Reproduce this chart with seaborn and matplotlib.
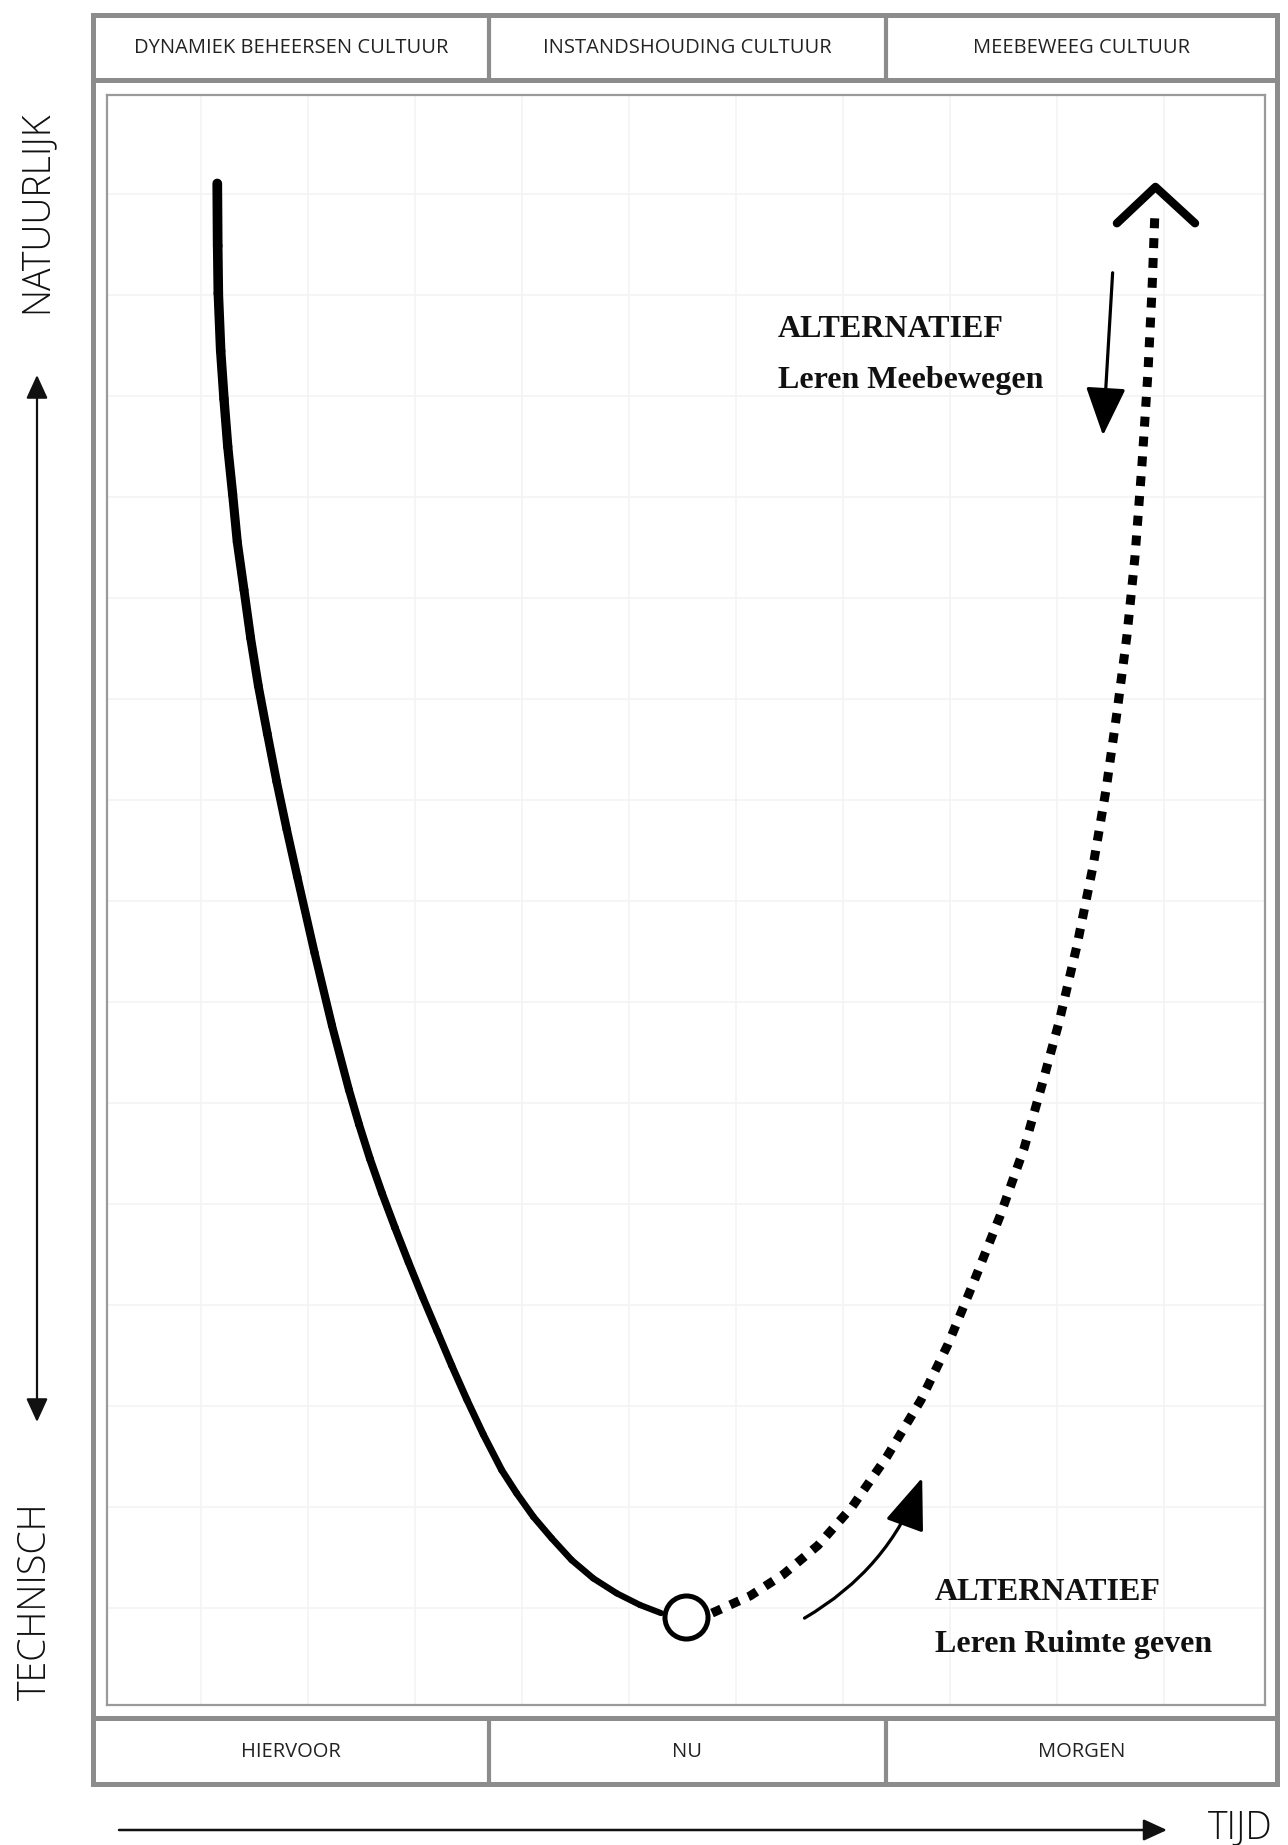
import numpy as np
import pandas as pd
import matplotlib
matplotlib.use('Agg')
import matplotlib.pyplot as plt
import seaborn as sns
from matplotlib.collections import LineCollection
from matplotlib.patches import Rectangle

# --- data (x = time grid units, y = technisch -> natuurlijk) ---
solid_x = [1.152, 1.156, 1.162, 1.184, 1.215, 1.250, 1.296, 1.339, 1.402, 1.464,
           1.536, 1.620, 1.707, 1.801, 1.900, 2.061, 2.224, 2.383, 2.477, 2.579,
           2.692, 2.813, 2.939, 3.070, 3.206, 3.343, 3.486, 3.638, 3.810, 3.950,
           4.106, 4.278, 4.464, 4.666, 4.885, 5.103, 5.299]
solid_y = [14.104, 13.488, 13.015, 12.446, 11.970, 11.499, 11.025, 10.554, 10.079, 9.604,
           9.129, 8.656, 8.182, 7.709, 7.238, 6.488, 5.768, 5.129, 4.788, 4.447,
           4.106, 3.765, 3.424, 3.083, 2.743, 2.401, 2.060, 1.719, 1.366, 1.136,
           0.904, 0.690, 0.475, 0.294, 0.146, 0.030, -0.050]

dotted_x = [5.776, 6.131, 6.439, 6.766, 7.084, 7.411, 7.729, 7.981, 8.215, 8.467,
            8.692, 8.860, 9.019, 9.187, 9.336, 9.458, 9.561, 9.654, 9.729, 9.794,
            9.850, 9.888, 9.916]
dotted_y = [-0.05, 0.12, 0.33, 0.62, 1.00, 1.50, 2.06, 2.61, 3.21, 3.88,
            4.55, 5.18, 5.80, 6.56, 7.34, 8.10, 8.87, 9.63, 10.41, 11.32,
            12.23, 13.05, 13.84]

chevron_x = [9.56, 9.92, 10.29]
chevron_y = [13.71, 14.07, 13.71]

now_point = (5.53, -0.09)

top_cells = ['DYNAMIEK BEHEERSEN CULTUUR', 'INSTANDSHOUDING CULTUUR', 'MEEBEWEEG CULTUUR']
bottom_cells = ['HIERVOOR', 'NU', 'MORGEN']

sns.set_theme(style='white')
plt.rcParams['font.family'] = ['Open Sans', 'DejaVu Sans']

W, H = 1288, 1845
fig = plt.figure(figsize=(W / 100, H / 100), dpi=100)

# background axes in pixel units for the frame and outer labels
bg = fig.add_axes([0, 0, 1, 1])
bg.set_xlim(0, W)
bg.set_ylim(H, 0)
bg.axis('off')

frame = '#8c8c8c'
bg.add_patch(Rectangle((93, 15), 1184, 1769, fill=False, lw=3.6, ec=frame))
bg.plot([93, 1277], [80, 80], color=frame, lw=3.6)
bg.plot([93, 1277], [1718, 1718], color=frame, lw=3.6)
cell_edges = [93, 489, 886, 1277]
for xe in cell_edges[1:-1]:
    bg.plot([xe, xe], [15, 80], color=frame, lw=3.0)
    bg.plot([xe, xe], [1718, 1784], color=frame, lw=3.0)
for i in range(3):
    cx = (cell_edges[i] + cell_edges[i + 1]) / 2
    bg.text(cx, 48, top_cells[i], ha='center', va='center', fontsize=14.5, color='#222222')
    bg.text(cx, 1752, bottom_cells[i], ha='center', va='center', fontsize=14.5, color='#222222')

# outer axis labels
lab_kw = dict(fontsize=27, color='#111111', fontweight='light')
bg.text(36, 212, 'NATUURLIJK', rotation=90, ha='center', va='center', **lab_kw)
bg.text(36, 1601, 'TECHNISCH', rotation=90, ha='center', va='center', **lab_kw)
bg.text(1240, 1838, 'TIJD', ha='center', va='baseline', **lab_kw)
bg.annotate('', xy=(37, 375), xytext=(37, 1422),
            arrowprops=dict(arrowstyle='<|-|>,head_length=1.2,head_width=0.55',
                            mutation_scale=12, lw=1.6, color='#111111',
                            shrinkA=0, shrinkB=0))
bg.annotate('', xy=(1167, 1830), xytext=(119, 1830),
            arrowprops=dict(arrowstyle='-|>,head_length=1.2,head_width=0.55',
                            mutation_scale=12, lw=1.8, color='#111111',
                            shrinkA=0, shrinkB=0))

# main axes (inner box)
ax = fig.add_axes([107 / W, (H - 1705) / H, 1158 / W, 1610 / H])
ax.set_xlim(0.1215, 10.944)
ax.set_ylim(-0.960, 14.98)
ax.set_xticks(range(1, 11))
ax.set_yticks(range(0, 15))
ax.grid(True, color='#f3f3f3', lw=1.2)
ax.tick_params(left=False, bottom=False, labelleft=False, labelbottom=False)
for s in ax.spines.values():
    s.set_color('#9a9a9a')
    s.set_linewidth(1.6)

# solid past curve, tapering
pts = np.column_stack([solid_x, solid_y])
segs = np.stack([pts[:-1], pts[1:]], axis=1)
lc = LineCollection(segs, linewidths=np.linspace(7.0, 4.4, len(segs)),
                    colors='black', capstyle='round', joinstyle='round', zorder=3)
ax.add_collection(lc)

# dotted alternative curve
dot_df = pd.DataFrame({'x': dotted_x, 'y': dotted_y})
sns.lineplot(data=dot_df, x='x', y='y', sort=False, estimator=None, ax=ax,
             color='black', lw=6.5, linestyle=(0, (1.1, 1.1)), zorder=3)
sns.lineplot(x=chevron_x, y=chevron_y, sort=False, estimator=None, ax=ax,
             color='black', lw=6.0, zorder=3)

# "now" marker
sns.scatterplot(x=[now_point[0]], y=[now_point[1]], ax=ax, s=31 ** 2,
                facecolor='white', edgecolor='black', linewidth=3.6, zorder=4)

# annotations
ser = dict(family=['Liberation Serif', 'DejaVu Serif'], fontweight='bold',
           fontsize=23, color='#111111', va='baseline', ha='left')
ax.text(6.39, 12.58, 'ALTERNATIEF', **ser)
ax.text(6.39, 12.08, 'Leren Meebewegen', **ser)
ax.text(7.86, 0.08, 'ALTERNATIEF', **ser)
ax.text(7.86, -0.44, 'Leren Ruimte geven', **ser)

ax.annotate('', xy=(9.43, 11.61), xytext=(9.52, 13.22),
            arrowprops=dict(arrowstyle='-|>,head_length=1.2,head_width=0.5',
                            mutation_scale=25, lw=2.3, color='black',
                            shrinkA=0, shrinkB=0))
ax.annotate('', xy=(7.74, 1.29), xytext=(6.64, -0.10),
            arrowprops=dict(arrowstyle='-|>,head_length=1.3,head_width=0.5',
                            mutation_scale=25, lw=2.3, color='black',
                            connectionstyle='arc3,rad=0.18',
                            shrinkA=0, shrinkB=0))

fig.savefig('out.png', dpi=100, facecolor='white')
